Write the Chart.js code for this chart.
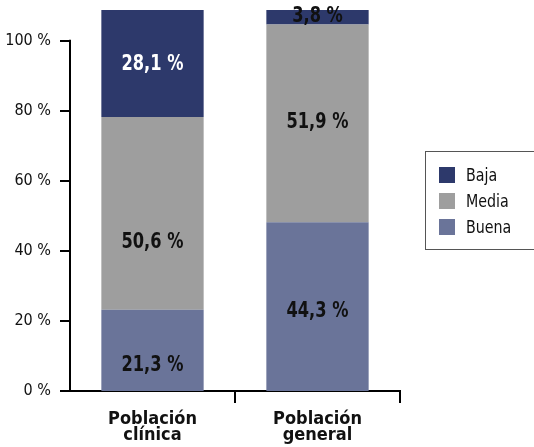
<!DOCTYPE html>
<html>
<head>
<meta charset="utf-8">
<script src="https://cdn.jsdelivr.net/npm/chart.js@4.4.1/dist/chart.umd.min.js"></script>
<style>
  html, body { margin: 0; padding: 0; background: #fff; }
  #wrap { width: 534px; height: 447px; }
</style>
</head>
<body>
<div id="wrap"><canvas id="c" width="534" height="447"></canvas></div>
<script>
// Self-rated level by population group (stacked shares, %)
const categories = [['Población', 'clínica'], ['Población', 'general']];
const seriesNames = ['Buena', 'Media', 'Baja'];
const buena = [21.3, 44.3];
const media = [50.6, 51.9];
const baja = [28.1, 3.8];
const yTicks = [0, 20, 40, 60, 80, 100];

const FONT = '"DejaVu Sans Condensed", "Liberation Sans", sans-serif';
const colors = { Buena: '#6a7499', Media: '#9e9e9e', Baja: '#2d396b' };
const labelColors = { Buena: '#111', Media: '#111', Baja: ['#fff', '#111'] };

const fmt = v => v.toFixed(1).replace('.', ',') + ' %';

// value labels inside every stacked segment, set in a narrowed bold face
const segmentLabels = {
  id: 'segmentLabels',
  afterDatasetsDraw(chart, args, opts) {
    const ctx = chart.ctx;
    const squeeze = opts.squeeze;
    chart.data.datasets.forEach((ds, di) => {
      const meta = chart.getDatasetMeta(di);
      meta.data.forEach((bar, i) => {
        const c = labelColors[ds.label];
        const nudge = (opts.nudge[ds.label] || [])[i] || 0;
        const yMid = (bar.y + bar.base) / 2 + nudge;
        ctx.save();
        ctx.font = 'bold 22px ' + FONT;
        ctx.textAlign = 'center';
        ctx.textBaseline = 'middle';
        ctx.fillStyle = Array.isArray(c) ? c[i] : c;
        ctx.translate(bar.x, yMid + 1);
        ctx.scale(squeeze, 1);
        ctx.fillText(fmt(ds.data[i]), 0, 0);
        ctx.restore();
      });
    });
  }
};

// left axis line, running from 0 % up to 100 %
const leftAxisLine = {
  id: 'leftAxisLine',
  afterDraw(chart) {
    const s = chart.scales.yPct;
    const ctx = chart.ctx;
    const x = chart.chartArea.left;
    ctx.save();
    ctx.strokeStyle = '#000';
    ctx.lineWidth = 2;
    ctx.beginPath();
    ctx.moveTo(x, s.getPixelForValue(0) + 1);
    ctx.lineTo(x, s.getPixelForValue(100) - 1);
    ctx.stroke();
    ctx.restore();
  }
};

// boxed legend on the right, top series first
const boxedLegend = {
  id: 'boxedLegend',
  afterDraw(chart) {
    const ctx = chart.ctx;
    const bx = 425, by = 151, bw = 120, bh = 98;
    ctx.save();
    ctx.strokeStyle = '#555';
    ctx.lineWidth = 1;
    ctx.strokeRect(bx + 0.5, by + 0.5, bw, bh);
    ctx.textBaseline = 'middle';
    ctx.textAlign = 'left';
    const items = chart.data.datasets.slice().reverse();
    items.forEach((ds, k) => {
      const cy = by + 24 + k * 26;
      ctx.fillStyle = ds.backgroundColor;
      ctx.fillRect(bx + 14, cy - 8, 16, 16);
      ctx.save();
      ctx.font = '18px ' + FONT;
      ctx.fillStyle = '#111';
      ctx.translate(bx + 41, cy + 1);
      ctx.scale(0.88, 1);
      ctx.fillText(ds.label, 0, 0);
      ctx.restore();
    });
    ctx.restore();
  }
};

const series = { Buena: buena, Media: media, Baja: baja };

new Chart(document.getElementById('c'), {
  type: 'bar',
  data: {
    labels: categories,
    datasets: seriesNames.map(name => ({
      label: name,
      data: series[name],
      backgroundColor: colors[name],
      borderWidth: 0,
      barPercentage: 0.62,
      categoryPercentage: 1
    }))
  },
  options: {
    responsive: false,
    animation: false,
    layout: { padding: { top: 10, right: 134, bottom: 0, left: 0 } },
    plugins: {
      legend: { display: false },
      tooltip: { enabled: false },
      segmentLabels: { squeeze: 0.82, nudge: { Media: [28, -2], Buena: [14, 4], Baja: [0, -2] } }
    },
    scales: {
      x: {
        stacked: true,
        afterFit(scale) { scale.height = 56; },
        border: { display: true, color: '#000', width: 2 },
        grid: {
          offset: true,
          drawOnChartArea: false,
          drawTicks: true,
          tickLength: 12,
          lineWidth: 2,
          color: ctx => (ctx.index === 0 ? 'rgba(0,0,0,0)' : '#000')
        },
        ticks: {
          color: '#111',
          padding: 8,
          maxRotation: 0,
          font: { family: FONT, size: 18, weight: 'bold', lineHeight: 0.9 }
        }
      },
      y: {
        stacked: true,
        display: false,
        min: 0,
        max: 100
      },
      yPct: {
        position: 'left',
        min: 0,
        max: 108.8,
        afterFit(scale) {
          scale.width = 70;
          scale.paddingTop = 0;
          scale.paddingBottom = 0;
        },
        afterBuildTicks(scale) { scale.ticks = yTicks.map(v => ({ value: v })); },
        border: { display: false },
        grid: {
          drawOnChartArea: false,
          drawTicks: true,
          tickLength: 10,
          lineWidth: 2,
          color: '#000'
        },
        ticks: {
          color: '#111',
          padding: 9,
          font: { family: FONT, size: 16 },
          callback: v => v + ' %'
        }
      }
    }
  },
  plugins: [segmentLabels, leftAxisLine, boxedLegend]
});
</script>
</body>
</html>
